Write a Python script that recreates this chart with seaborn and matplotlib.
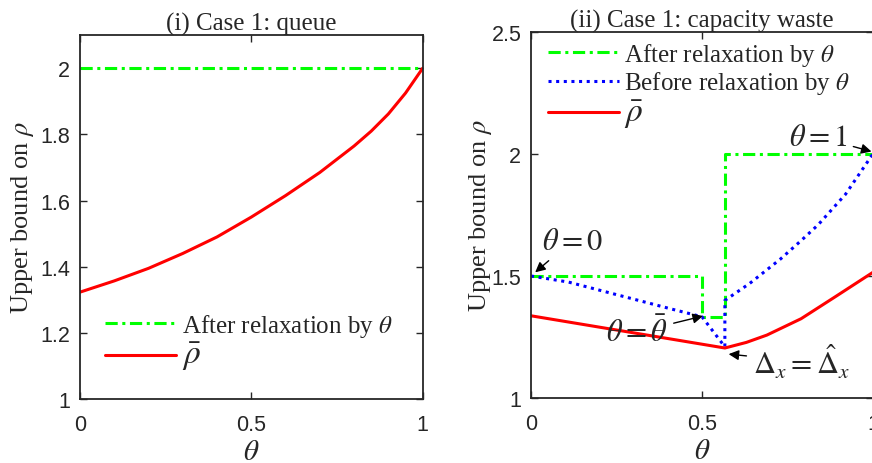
import matplotlib
matplotlib.use("Agg")
import matplotlib.pyplot as plt
import seaborn as sns
import pandas as pd

# (i) Case 1: queue
theta_queue = [0.0, 0.1, 0.2, 0.3, 0.4, 0.5, 0.6, 0.7, 0.8, 0.85, 0.9, 0.95, 1.0]
rho_bar_queue = [1.323, 1.357, 1.395, 1.44, 1.49, 1.55, 1.615, 1.685, 1.765, 1.81, 1.862, 1.925, 2.0]
theta_after_queue = [0.0, 1.0]
after_queue = [2.0, 2.0]

# (ii) Case 1: capacity waste
theta_after = [0.0, 0.5, 0.5, 0.567, 0.567, 1.0]
after_waste = [1.5, 1.5, 1.333, 1.333, 2.0, 2.0]
theta_before = [0.0, 0.11, 0.26, 0.41, 0.5, 0.567, 0.567, 0.64, 0.73, 0.79, 0.84, 0.92, 1.0]
before_waste = [1.5, 1.475, 1.42, 1.365, 1.333, 1.21, 1.40, 1.47, 1.57, 1.645, 1.71, 1.835, 2.0]
theta_rho = [0.0, 0.567, 0.63, 0.69, 0.79, 0.89, 1.0]
rho_bar_waste = [1.337, 1.205, 1.228, 1.258, 1.325, 1.415, 1.515]

sns.set_style("ticks")
plt.rcParams["font.family"] = ["Liberation Sans", "DejaVu Sans"]
plt.rcParams["mathtext.fontset"] = "stix"

GREEN = "#00ff00"
BLUE = "#0000ff"
RED = "#ff0000"
AXC = (0.15, 0.15, 0.15)
SERIF = ["Liberation Serif", "DejaVu Serif"]
DASHDOT = (0, (4, 1.5, 1, 1.5))
DOTTED = (0, (1, 1.5))
LW = 2.2

fig = plt.figure(figsize=(8.72, 4.64), dpi=100)
ax1 = fig.add_axes([0.0917, 0.138, 0.393, 0.784])
ax2 = fig.add_axes([0.609, 0.140, 0.392, 0.789])

# left panel
df_q = pd.DataFrame({"theta": theta_queue, "rho": rho_bar_queue})
df_qa = pd.DataFrame({"theta": theta_after_queue, "rho": after_queue})
sns.lineplot(data=df_qa, x="theta", y="rho", ax=ax1, color=GREEN, lw=LW,
             linestyle=DASHDOT, estimator=None, sort=False,
             label=r"After relaxation by $\theta$")
sns.lineplot(data=df_q, x="theta", y="rho", ax=ax1, color=RED, lw=LW,
             estimator=None, sort=False, label=r"$\bar{\rho}$")
ax1.set_xlim(0, 1)
ax1.set_ylim(1, 2.1)
ax1.set_xticks([0, 0.5, 1])
ax1.set_xticklabels(["0", "0.5", "1"])
ax1.set_yticks([1, 1.2, 1.4, 1.6, 1.8, 2])
ax1.set_yticklabels(["1", "1.2", "1.4", "1.6", "1.8", "2"])
ax1.set_title("(i) Case 1: queue", family=SERIF, fontsize=18, pad=4)
leg1 = ax1.legend(loc="upper left", bbox_to_anchor=(0.073, 0.24), frameon=False,
                  prop={"family": SERIF, "size": 18}, handlelength=2.85,
                  handletextpad=0.25, labelspacing=0.05, borderaxespad=0,
                  borderpad=0)
leg1.get_texts()[-1].set_fontsize(24)

# right panel
df_a = pd.DataFrame({"theta": theta_after, "rho": after_waste})
df_b = pd.DataFrame({"theta": theta_before, "rho": before_waste})
df_r = pd.DataFrame({"theta": theta_rho, "rho": rho_bar_waste})
sns.lineplot(data=df_a, x="theta", y="rho", ax=ax2, color=GREEN, lw=LW,
             linestyle=DASHDOT, estimator=None, sort=False,
             label=r"After relaxation by $\theta$")
sns.lineplot(data=df_b, x="theta", y="rho", ax=ax2, color=BLUE, lw=LW,
             linestyle=DOTTED, estimator=None, sort=False,
             label=r"Before relaxation by $\theta$")
sns.lineplot(data=df_r, x="theta", y="rho", ax=ax2, color=RED, lw=LW,
             estimator=None, sort=False, label=r"$\bar{\rho}$")
ax2.set_xlim(0, 1)
ax2.set_ylim(1, 2.5)
ax2.set_xticks([0, 0.5, 1])
ax2.set_xticklabels(["0", "0.5", "1"])
ax2.set_yticks([1, 1.5, 2, 2.5])
ax2.set_yticklabels(["1", "1.5", "2", "2.5"])
ax2.set_title("(ii) Case 1: capacity waste", family=SERIF, fontsize=18, pad=4)
leg2 = ax2.legend(loc="upper left", bbox_to_anchor=(0.05, 0.975), frameon=False,
                  prop={"family": SERIF, "size": 18}, handlelength=2.85,
                  handletextpad=0.2, labelspacing=0.05, borderaxespad=0,
                  borderpad=0)
leg2.get_texts()[-1].set_fontsize(24)

arrow = dict(arrowstyle="-|>", color="k", lw=1.0, mutation_scale=15,
             shrinkA=2, shrinkB=0)
ax2.annotate(r"$\theta = 0$", xy=(0.012, 1.515), xytext=(0.12, 1.645),
             fontsize=22, ha="center", va="center", arrowprops=arrow)
ax2.annotate(r"$\theta = \bar{\theta}$", xy=(0.503, 1.336), xytext=(0.31, 1.27),
             fontsize=22, ha="center", va="center", arrowprops=arrow)
ax2.annotate(r"$\Delta_x = \hat{\Delta}_x$", xy=(0.578, 1.18), xytext=(0.79, 1.15),
             fontsize=22, ha="center", va="center", arrowprops=arrow)
ax2.annotate(r"$\theta = 1$", xy=(0.996, 2.01), xytext=(0.84, 2.07),
             fontsize=22, ha="center", va="center", arrowprops=arrow,
             annotation_clip=False)

for ax, ypad in ((ax1, 3), (ax2, -2)):
    ax.set_xlabel(r"$\theta$", fontsize=21, color=AXC, labelpad=1)
    ax.set_ylabel(r"Upper bound on $\rho$", family=SERIF, fontsize=19,
                  color=AXC, labelpad=ypad)
    ax.tick_params(direction="in", length=5, width=1, colors=AXC,
                   labelsize=15.5, top=True, right=True)
    ax.tick_params(axis="x", pad=11)
    ax.tick_params(axis="y", pad=7)
    for s in ax.spines.values():
        s.set_visible(True)
        s.set_color(AXC)
        s.set_linewidth(1.3)

fig.savefig("out.png", dpi=100)
